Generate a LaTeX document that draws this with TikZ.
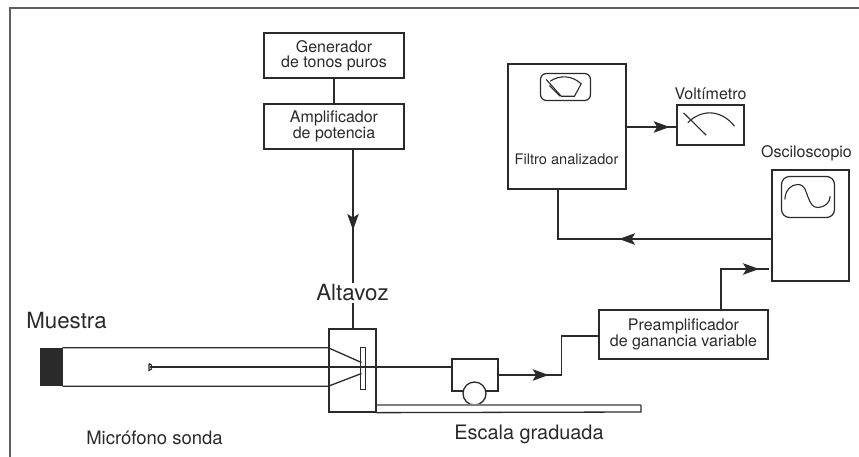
\documentclass[tikz,border=0pt]{standalone}
\usepackage{fontspec}
\setmainfont{TeX Gyre Heros}
\usetikzlibrary{arrows.meta,decorations.markings}
\definecolor{ink}{HTML}{2B2A2A}
\tikzset{
    wire/.style={draw=ink, line width=1.3pt},
    fine/.style={draw=ink, line width=1.1pt},
    midtip/.style={postaction={decorate, decoration={markings,
        mark=at position #1 with {\arrow{Stealth[length=16pt,width=11.5pt,inset=3.5pt]}}}}},
    unit/.style={draw=ink, line width=1.3pt, align=center, inner sep=0pt, text=ink,
        font=\fontsize{16}{15}\selectfont},
    caption/.style={inner sep=0pt, text=ink, align=center},
    smalltext/.style={caption, font=\fontsize{16}{16.7}\selectfont},
    midtext/.style={caption, font=\fontsize{19}{20}\selectfont},
    bigtext/.style={caption, font=\fontsize{22.3}{24}\selectfont}
}
\begin{document}
\begin{tikzpicture}[x=1pt, y=-1pt]
    \useasboundingbox (0.5, 0.5) rectangle (859.5, 456.5);
    % frame, top and left only
    \draw[draw=ink!75, line width=1.5pt] (10.5, 457) -- (10.5, 8.5) -- (860, 8.5);

    \node[unit, minimum width=140pt, minimum height=45pt] (generador) at (334.5, 56) {Generador\\de tonos puros};
    \node[unit, minimum width=140pt, minimum height=45pt] (amplificador) at (334.5, 127) {Amplificador\\de potencia};
    \node[unit, minimum width=118pt, minimum height=125pt] (filtro) at (567.5, 127) {};
    \node[unit, minimum width=67pt, minimum height=40pt] (voltimetro) at (711, 125.5) {};
    \node[unit, minimum width=77pt, minimum height=111pt] (osciloscopio) at (811, 226) {};
    \node[unit, minimum width=169pt, minimum height=49pt] (preamp) at (684, 335) {Preamplificador\\de ganancia variable};
    \node[unit, minimum width=47pt, minimum height=83pt] (altavoz) at (353, 371) {};
    \node[unit, minimum width=46pt, minimum height=32pt] (carro) at (475.5, 375.5) {};

    \node[smalltext, font=\fontsize{14.6}{16}\selectfont] (filtrotxt) at (567, 160) {Filtro analizador};
    \node[smalltext] (volttxt) at (711, 94) {Voltímetro};
    \node[smalltext] (oscitxt) at (807, 154) {Osciloscopio};
    \node[bigtext, fill=white, inner ysep=1pt] (altavoztxt) at (353, 293) {Altavoz};
    \node[bigtext] (muestratxt) at (67, 321) {Muestra};
    \node[midtext, font=\fontsize{18.5}{20}\selectfont] (microtxt) at (155, 438) {Micrófono sonda};
    \node[midtext, font=\fontsize{19.9}{21}\selectfont] (escalatxt) at (529.5, 435) {Escala graduada};

    \coordinate (filtroin) at (558.5, 189.5);
    \coordinate (osciout) at (772.5, 239.5);
    \coordinate (osciin) at (769, 269.5);
    \coordinate (ampout) at (353.5, 149.5);
    \coordinate (preout) at (721.5, 310.5);
    \coordinate (prein) at (599.5, 336.5);
    \coordinate (voltin) at (677.5, 127.5);

    \draw[wire] (generador) -- (amplificador);
    \draw[wire, midtip=81pt] (ampout) -- (ampout |- altavoztxt.north);
    \draw[wire] (ampout |- altavoztxt.south) ++(0, 1) -- (ampout |- altavoz.north);
    \draw[wire, midtip=43pt] (filtro.east |- voltin) -- (voltin);
    \draw[wire, midtip=153pt] (osciout) -| (filtroin);
    \draw[wire, midtip=79pt] (preout) |- (osciin);
    \draw[wire, midtip=50pt] (carro.east) -- ++(63, 0) |- (prein);

    % sample and tube
    \node[fill=ink, minimum width=23pt, minimum height=38pt, inner sep=0pt] (muestra) at (51.5, 367.5) {};
    \node[unit, fill=white, line width=1.1pt, minimum width=5pt, minimum height=42pt] (placa) at (363.5, 369) {};
    \coordinate (sondatip) at (150, 367.5);
    \draw[wire] (muestra.north east) -- (muestra.north east -| altavoz.west) -- (362, 363);
    \draw[wire] (muestra.south east) -- (muestra.south east -| altavoz.west) -- (362, 374);
    \draw[wire] (sondatip) -- (carro.west |- sondatip);
    \draw[fine] (149.5, 364) -- (149.5, 371) .. controls (153.5, 370) and (153.5, 365) .. (149.5, 364);

    % scale and wheel
    \node[draw=ink, line width=1.3pt, fill=white, circle, minimum size=23pt, inner sep=0pt] (rueda) at (475, 394) {};
    \coordinate (escalaend) at (641.5, 412.5);
    \draw[draw=ink!60, line width=1.8pt] (altavoz.east |- 0, 405.5) -- (escalaend |- 0, 405.5);
    \draw[wire] (altavoz.south east) -- (escalaend) -- (escalaend |- 0, 405.5);

    % filter dial
    \node[draw=ink, line width=1.2pt, rounded corners=6pt, minimum width=50pt, minimum height=27pt] (dial) at (566, 87.5) {};
    \draw[fine] (546.7, 80) -- (561.7, 96.7) -- (575, 96.7) -- (581.7, 84.3) .. controls (572, 75.5) and (560, 75.5) .. (550.7, 81.7);
    \draw[fine] (550, 86) -- (560.5, 96.7);

    % voltmeter
    \draw[fine] (684, 113.3) -- (706.7, 135.7);
    \draw[fine] (688.3, 123.3) .. controls (700, 111) and (720, 108) .. (735, 126.7);

    % oscilloscope screen
    \node[draw=ink, line width=1.2pt, rounded corners=8pt, minimum width=53pt, minimum height=41pt] (pantalla) at (808.5, 197.5) {};
    \draw[fine] (785.3, 200) .. controls (786, 190) and (792, 185) .. (798, 185)
        .. controls (806, 185) and (806, 192) .. (808.3, 197)
        .. controls (811, 204) and (813, 208) .. (818.3, 208)
        .. controls (825, 208) and (830.7, 203) .. (830.7, 196.7);
\end{tikzpicture}
\end{document}
